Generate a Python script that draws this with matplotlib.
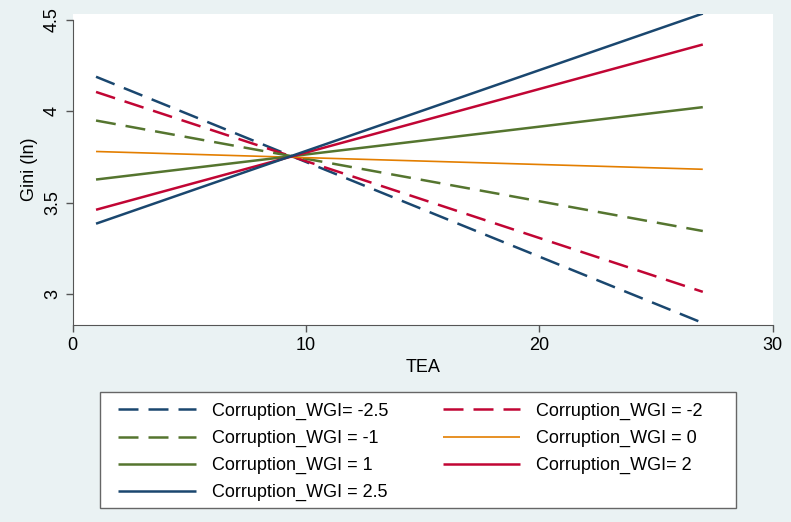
import numpy as np
import matplotlib.pyplot as plt
from matplotlib.patches import Rectangle

plt.rcParams['font.family'] = ['Liberation Sans', 'DejaVu Sans']

# TEA range of the predicted lines
tea = [1, 27]

labels = ["Corruption_WGI= -2.5", "Corruption_WGI = -2", "Corruption_WGI = -1",
          "Corruption_WGI = 0", "Corruption_WGI = 1", "Corruption_WGI= 2",
          "Corruption_WGI = 2.5"]
# predicted Gini (ln) at TEA = 1 and TEA = 27
gini_m25 = [4.188, 2.844]
gini_m2 = [4.105, 3.014]
gini_m1 = [3.949, 3.346]
gini_0 = [3.780, 3.683]
gini_1 = [3.627, 4.022]
gini_2 = [3.462, 4.364]
gini_25 = [3.386, 4.533]

navy = "#1a476f"
red = "#c10534"
green = "#55752f"
orange = "#e37e00"

W, H = 791, 522
fig = plt.figure(figsize=(W / 100, H / 100), dpi=100)
fig.patch.set_facecolor("#eaf2f3")
ax = fig.add_axes([0.0919, 0.3774, 0.8851, 0.5956])

series = [gini_m25, gini_m2, gini_m1, gini_0, gini_1, gini_2, gini_25]
colors = [navy, red, green, orange, green, red, navy]
dashed = [True, True, True, False, False, False, False]
widths = [1.8, 1.8, 1.8, 1.2, 1.8, 1.8, 1.8]

handles = []
for y, c, d, w, lab in zip(series, colors, dashed, widths, labels):
    line, = ax.plot(tea, y, color=c, lw=w, label=lab, solid_capstyle='butt')
    if d:
        line.set_dashes((8, 4))
    handles.append(line)

ax.set_xlim(0, 30)
ax.set_ylim(2.833, 4.53)
ax.set_xticks([0, 10, 20, 30])
ax.set_yticks([3, 3.5, 4, 4.5])
ax.set_yticklabels(["3", "3.5", "4", "4.5"], rotation=90, va='center')
ax.tick_params(labelsize=13, length=5, width=1, color="#555555")
for s in ['top', 'right']:
    ax.spines[s].set_visible(False)
ax.spines['left'].set_bounds(2.833, 4.5)
for s in ['left', 'bottom']:
    ax.spines[s].set_color("#555555")
ax.set_xlabel("TEA", fontsize=13)
ax.set_ylabel("Gini (ln)", fontsize=13)

# legend frame (white box below the plot)
fig.add_artist(Rectangle((100 / W, 14 / H), 636 / W, 116 / H,
                         transform=fig.transFigure, facecolor="white",
                         edgecolor="#666666", lw=1, zorder=1))

# legend: column-major order to get the row layout of the original
order = [0, 2, 4, 6, 1, 3, 5]
leg = fig.legend([handles[i] for i in order], [labels[i] for i in order],
                 ncol=2, loc='center', bbox_to_anchor=(0.519, 0.134),
                 fontsize=13, frameon=False,
                 handlelength=4.3, columnspacing=3.0, labelspacing=0.55,
                 borderpad=0.2, handletextpad=0.9)
leg.set_zorder(2)

fig.savefig("out.png", dpi=100, facecolor=fig.get_facecolor())
